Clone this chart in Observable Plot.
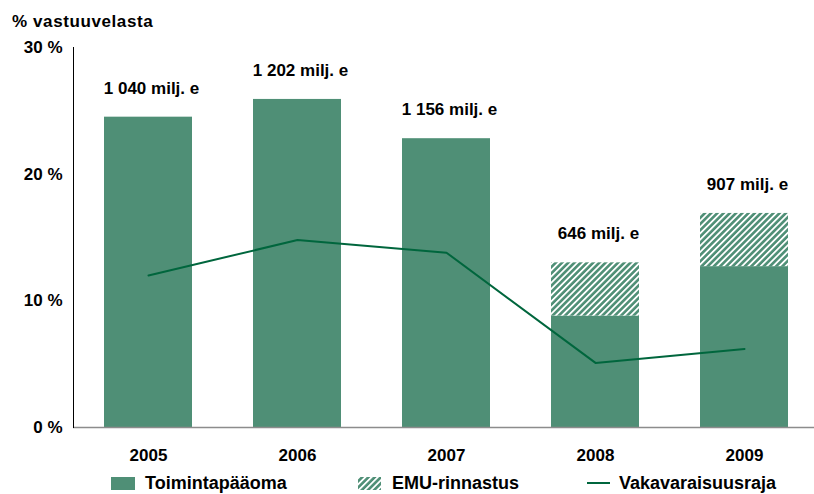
<!DOCTYPE html>
<html>
<head>
<meta charset="utf-8">
<script src="https://cdn.jsdelivr.net/npm/d3@7"></script>
<script src="https://cdn.jsdelivr.net/npm/@observablehq/plot@0.6"></script>
<style>
  html, body { margin: 0; padding: 0; background: #fff; }
  body { width: 814px; height: 494px; overflow: hidden; font-family: "Liberation Sans", Arial, sans-serif; }
  #title { position: relative; height: 30px; }
  #title span { position: absolute; left: 12px; top: 13px; font-size: 17px; line-height: 17px; font-weight: bold; color: #000; letter-spacing: 0.6px; }
  #chart { height: 442px; }
  #chart svg { display: block; overflow: visible; }
  #legend { position: relative; height: 22px; font-size: 18px; line-height: 18px; font-weight: bold; color: #000; }
  #legend .item { position: absolute; top: 0; }
  #legend .sw { position: absolute; }
</style>
</head>
<body>
<div id="title"><span>% vastuuvelasta</span></div>
<div id="chart"></div>
<div id="legend"></div>
<script>
const years = ["2005", "2006", "2007", "2008", "2009"];
const toimintapaaoma = [24.5, 25.9, 22.8, 8.8, 12.7];
const emuRinnastus = [0, 0, 0, 4.2, 4.2];
const vakavaraisuusraja = [12.0, 14.8, 13.8, 5.1, 6.2];
const totalLabels = ["1 040 milj. e", "1 202 milj. e", "1 156 milj. e", "646 milj. e", "907 milj. e"];
const yTicks = [0, 10, 20, 30];
const legendLabels = ["Toimintapääoma", "EMU-rinnastus", "Vakavaraisuusraja"];

const barColor = "#4f8f76";
const lineColor = "#00663d";

const rows = years.map((y, i) => ({
  year: y,
  base: toimintapaaoma[i],
  emu: emuRinnastus[i],
  top: toimintapaaoma[i] + emuRinnastus[i],
  line: vakavaraisuusraja[i],
  label: totalLabels[i]
}));

const plot = Plot.plot({
  width: 814,
  height: 442,
  marginTop: 17,
  marginBottom: 45,
  marginLeft: 73,
  marginRight: -4,
  style: { fontFamily: "'Liberation Sans', Arial, sans-serif", fontSize: "17px", fontWeight: "bold", color: "#000", background: "transparent" },
  x: { domain: years, paddingInner: 0.41, paddingOuter: 0.205, label: null },
  y: { domain: [0, 30], label: null },
  marks: [
    Plot.barY(rows, { x: "year", y1: 0, y2: "base", fill: barColor }),
    Plot.barY(rows.filter(d => d.emu > 0), { x: "year", y1: "base", y2: "top", fill: "url(#hatch)" }),
    Plot.ruleY([0], { stroke: "#8c8c8c", strokeWidth: 1.5 }),
    Plot.frame({ anchor: "left", stroke: "#000", strokeWidth: 1 }),
    Plot.line(rows, { x: "year", y: "line", stroke: lineColor, strokeWidth: 2 }),
    Plot.text(rows, { x: "year", y: "top", text: "label", dy: -29, dx: 3, fontSize: 17, fontWeight: "bold", fill: "#000", letterSpacing: "0.3px" }),
    Plot.axisY({ ticks: yTicks, tickSize: 0, tickPadding: 11, tickFormat: d => d + " %", fontSize: 17, fontWeight: "bold", label: null }),
    Plot.axisX({ tickSize: 0, tickPadding: 21, fontSize: 17, fontWeight: "bold", label: null })
  ]
});

const svgNS = "http://www.w3.org/2000/svg";
function makePattern(id) {
  const pat = document.createElementNS(svgNS, "pattern");
  pat.setAttribute("id", id);
  pat.setAttribute("patternUnits", "userSpaceOnUse");
  pat.setAttribute("width", "4.4");
  pat.setAttribute("height", "4.4");
  pat.setAttribute("patternTransform", "rotate(45)");
  const bg = document.createElementNS(svgNS, "rect");
  bg.setAttribute("width", "4.4"); bg.setAttribute("height", "4.4"); bg.setAttribute("fill", barColor);
  const st = document.createElementNS(svgNS, "rect");
  st.setAttribute("width", "1.8"); st.setAttribute("height", "4.4"); st.setAttribute("fill", "#ffffff");
  pat.appendChild(bg); pat.appendChild(st);
  return pat;
}
const defs = document.createElementNS(svgNS, "defs");
defs.appendChild(makePattern("hatch"));
plot.insertBefore(defs, plot.firstChild);
document.getElementById("chart").appendChild(plot);

// legend
const legend = document.getElementById("legend");
legend.innerHTML = `
  <div class="sw" style="left:111px;top:5px;width:24px;height:13px;background:${barColor}"></div>
  <div class="item" style="left:145px;top:2px">${legendLabels[0]}</div>
  <svg class="sw" style="left:358px;top:5px" width="23" height="13">
    <defs></defs>
    <rect width="23" height="13" fill="url(#hatchLegend)"></rect>
  </svg>
  <div class="item" style="left:392px;top:2px">${legendLabels[1]}</div>
  <div class="sw" style="left:587px;top:10px;width:23px;height:2px;background:${lineColor}"></div>
  <div class="item" style="left:619px;top:2px">${legendLabels[2]}</div>
`;
legend.querySelector("svg defs").appendChild(makePattern("hatchLegend"));
</script>
</body>
</html>
